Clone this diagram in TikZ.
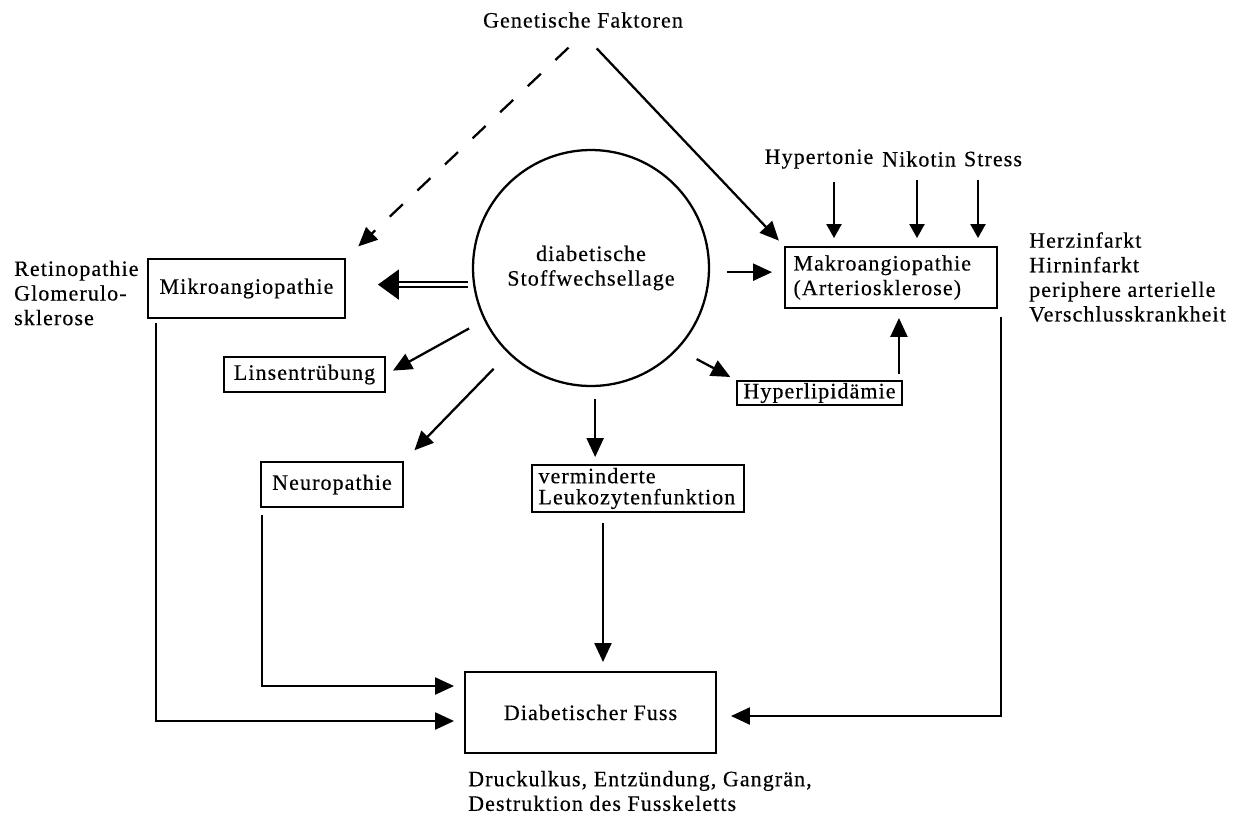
\documentclass[tikz,border=0pt]{standalone}
\usepackage{fontspec}
\setmainfont{Liberation Serif}[LetterSpace=5,FakeBold=0.4]
\usetikzlibrary{arrows.meta}
\begin{document}
\begin{tikzpicture}[x=0.02cm,y=-0.02cm,>={Triangle[length=0.38cm,width=0.34cm]},
    font=\fontsize{12.5}{14}\selectfont,
    kasten/.style={draw,line width=1.1pt,inner sep=0pt},
    pfeil/.style={->,line width=1.3pt},
    kleinpfeil/.style={-{Triangle[length=0.28cm,width=0.3cm]},line width=1.3pt},
    doppel/.style={-{Triangle[length=0.42cm,width=0.6cm]},double,line width=1.1pt,double distance=1.6pt}]
\useasboundingbox (0,0) rectangle (1248,816);

\node (gen) at (583,20) {Genetische Faktoren};
\node[circle,draw,line width=1.3pt,minimum size=4.72cm,inner sep=0pt,align=center] (kreis) at (591,268) {diabetische\\Stoffwechsellage};

\node[kasten,minimum width=3.94cm,minimum height=1.18cm] (mikro) at (246.5,288.5) {Mikroangiopathie};
\node[kasten,minimum width=3.22cm,minimum height=0.7cm] (lins) at (304.5,374.5) {Linsentrübung};
\node[kasten,minimum width=2.84cm,minimum height=0.9cm] (neuro) at (332,484.5) {Neuropathie};
\node[kasten,align=left,text width=3.98cm,inner xsep=0.13cm,minimum height=0.94cm,font=\fontsize{12.5}{12}\selectfont] (leuko) at (638,488.5) {verminderte\\Leukozytenfunktion};
\node[kasten,align=left,text width=3.9cm,inner xsep=0.17cm,minimum height=1.22cm] (makro) at (891,277.5) {Makroangiopathie\\(Arteriosklerose)};
\node[kasten,minimum width=3.3cm,minimum height=0.48cm] (hyper) at (819.5,393) {Hyperlipidämie};
\node[kasten,minimum width=5.02cm,minimum height=1.62cm] (fuss) at (590.5,712.5) {Diabetischer Fuss};

\node (hyp) at (819,159) {Hypertonie};
\node (nik) at (919,159) {Nikotin};
\node (str) at (993,159) {Stress};

\node[align=left,anchor=west] (retino) at (8,293) {Retinopathie\\Glomerulo-\\sklerose};
\node[align=left,anchor=west] (herz) at (1023,277) {Herzinfarkt\\Hirninfarkt\\periphere arterielle\\Verschlusskrankheit};
\node[align=left,anchor=west] (druck) at (462,791) {Druckulkus, Entzündung, Gangrän,\\Destruktion des Fusskeletts};

\draw[pfeil,dash pattern=on 0.36cm off 0.4cm,shorten <=0.4cm,shorten >=0.34cm] (gen.south) -- (mikro.north east);
\draw[pfeil,shorten <=0.4cm,shorten >=0.15cm] (gen.south) -- (makro.north west);

\draw[doppel,shorten <=0.1cm,shorten >=0.64cm] (kreis.188) -- (kreis.188 -| mikro.east);
\draw[pfeil,shorten <=0.34cm,shorten >=0.16cm] (kreis.206) -- (lins.east);
\draw[pfeil,shorten <=0.42cm,shorten >=0.3cm] (kreis.226) -- (neuro.north east);
\draw[pfeil,shorten <=0.24cm,shorten >=0.14cm] (kreis.272) -- (kreis.272 |- leuko.north);
\draw[pfeil,shorten <=0.42cm,shorten >=0.13cm] (kreis.317) -- (hyper.north west);
\draw[pfeil,shorten <=0.34cm,shorten >=0.24cm] (kreis.358) -- (kreis.358 -| makro.west);

\foreach \n/\dx in {hyp/0.3,nik/-0.04,str/-0.3}
{
    \draw[kleinpfeil,shorten <=0.14cm,shorten >=0.16cm] ([xshift=\dx cm]\n.south) -- ([xshift=\dx cm]\n.south |- makro.north);
}
\draw[pfeil,shorten <=0.12cm,shorten >=0.18cm] ([xshift=-0.08cm]hyper.north east) -- ([xshift=-0.08cm]hyper.north east |- makro.south);

\draw[pfeil,shorten <=0.2cm,shorten >=0.18cm] ([xshift=0.25cm]fuss.north |- leuko.south) -- ([xshift=0.25cm]fuss.north);
\draw[pfeil,shorten <=0.14cm,shorten >=0.2cm] ([xshift=0.04cm]neuro.south west) |- ([yshift=0.53cm]fuss.west);
\draw[pfeil,shorten <=0.08cm,shorten >=0.2cm] ([xshift=0.18cm]mikro.south west) |- ([yshift=-0.17cm]fuss.west);
\draw[pfeil,shorten <=0.16cm,shorten >=0.28cm] ([xshift=0.06cm]makro.south east) |- ([yshift=-0.07cm]fuss.east);
\end{tikzpicture}
\end{document}
